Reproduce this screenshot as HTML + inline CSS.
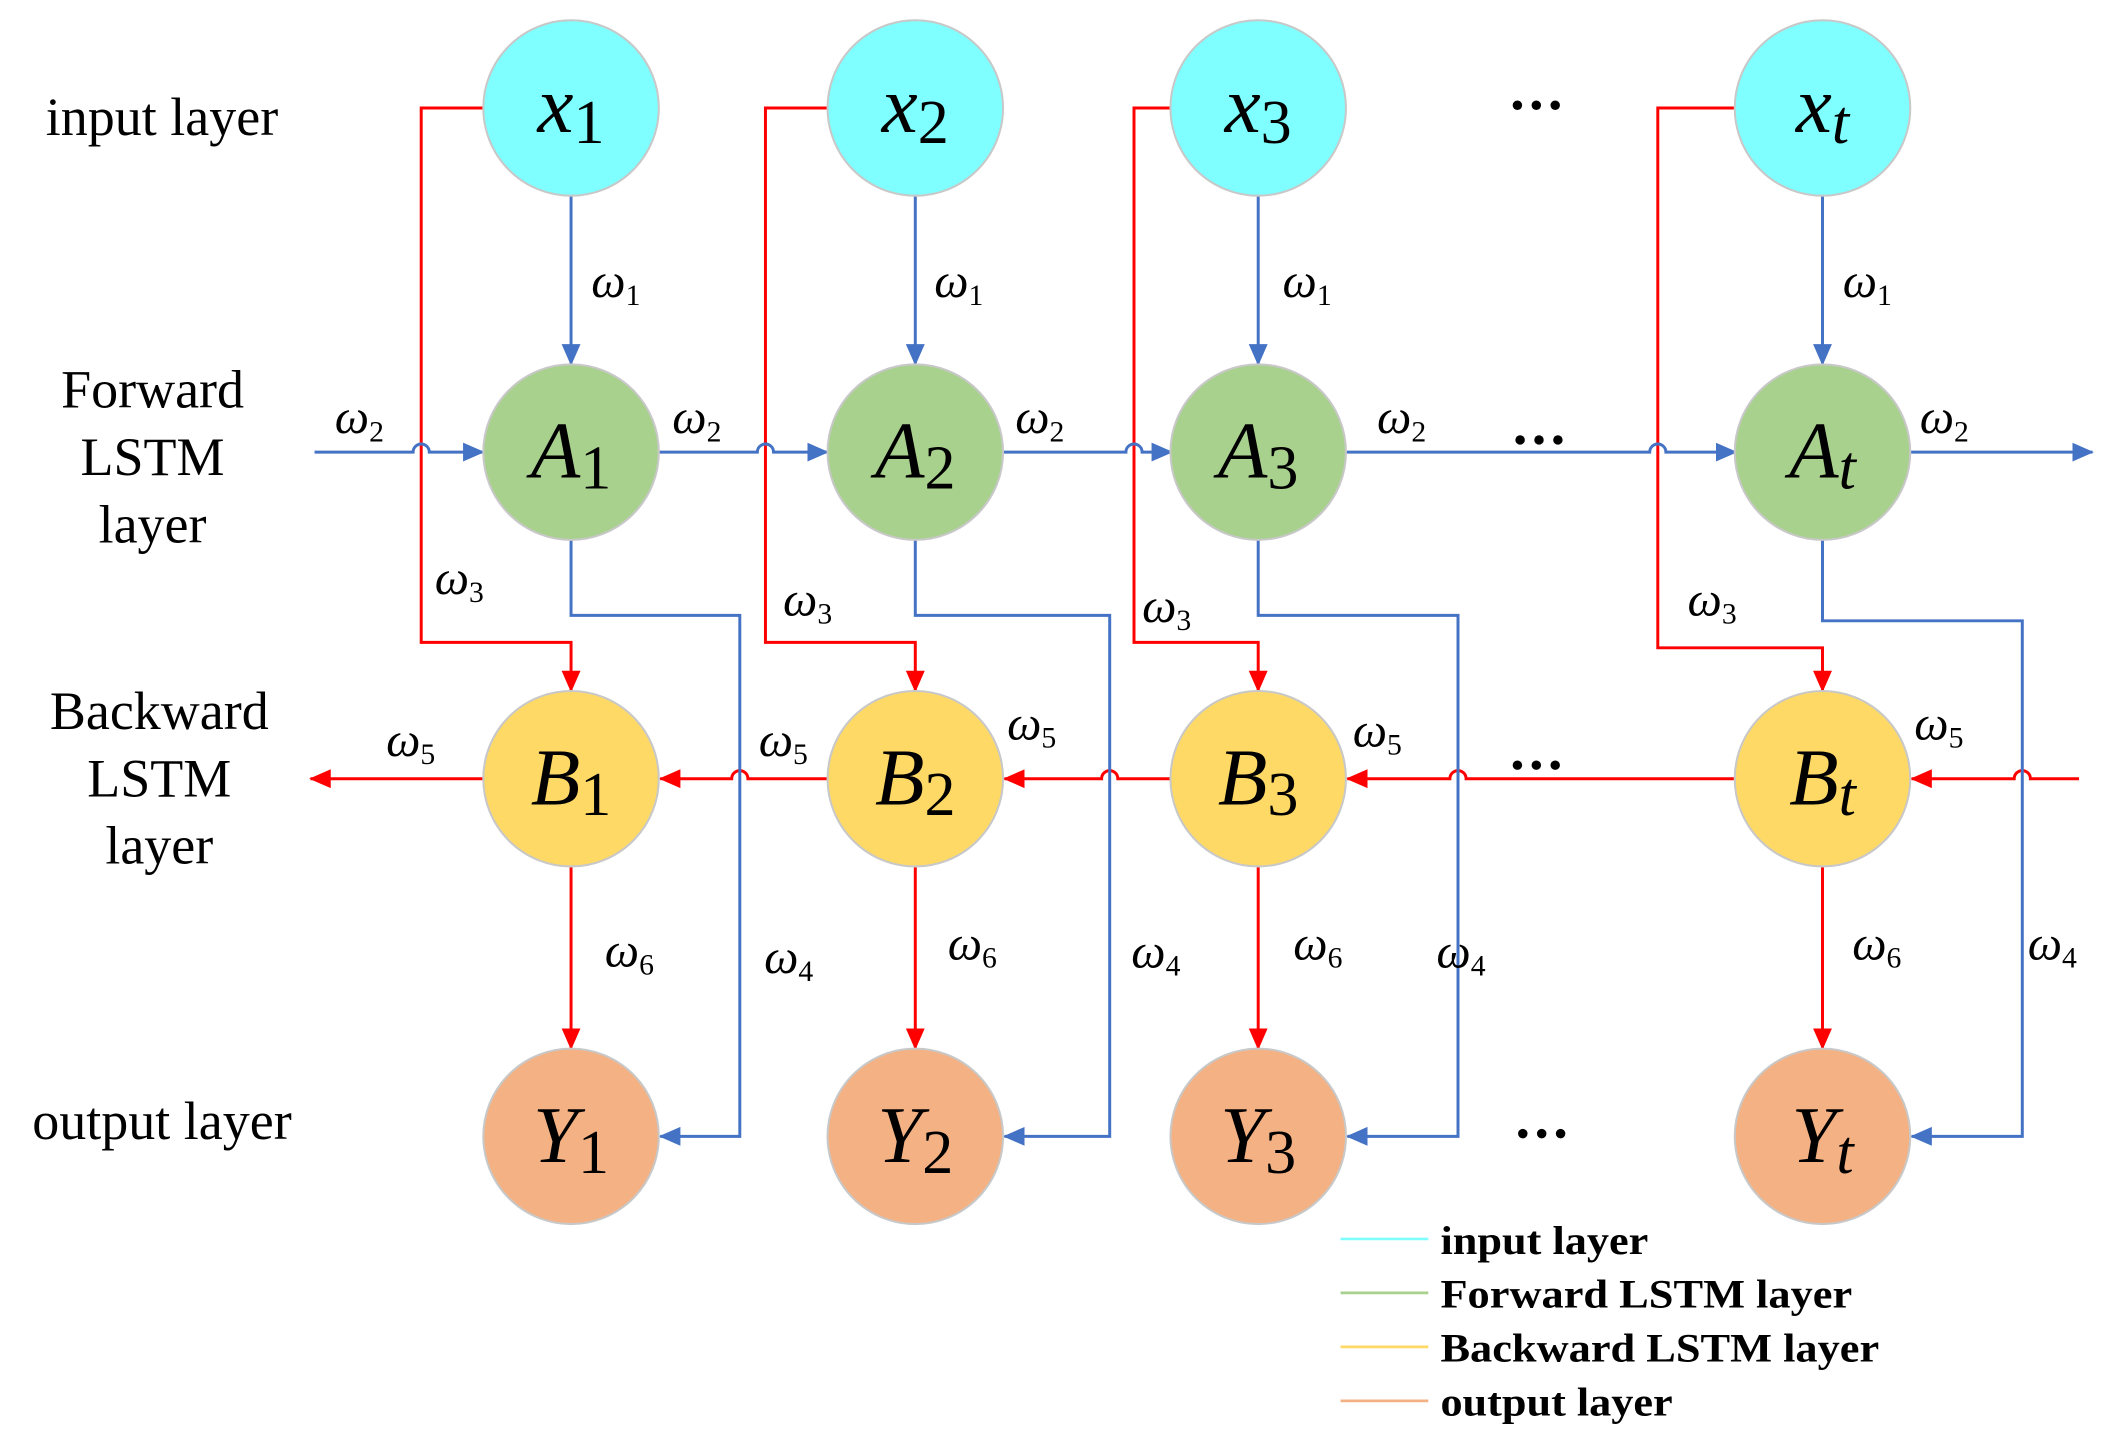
<!DOCTYPE html>
<html><head><meta charset="utf-8"><style>
html,body{margin:0;padding:0;background:#fff;}
svg{display:block;}
</style></head><body>
<svg width="2106" height="1440" viewBox="0 0 1560 1067" preserveAspectRatio="none" xmlns="http://www.w3.org/2000/svg" font-family="'Liberation Serif', 'Times New Roman', serif">
<defs>
<marker id="ab" markerWidth="16" markerHeight="16" refX="15" refY="8" orient="auto" markerUnits="userSpaceOnUse" viewBox="0 0 16 16"><path d="M0,1 L16,8 L0,15 z" fill="#4472c4"/></marker>
<marker id="ar" markerWidth="16" markerHeight="16" refX="15" refY="8" orient="auto" markerUnits="userSpaceOnUse" viewBox="0 0 16 16"><path d="M0,1 L16,8 L0,15 z" fill="#ff0000"/></marker>
</defs>
<g fill="none" stroke-width="2.2">
<g stroke="#ff0000">
<path d="M358,80 H312 V476 H423 V512" marker-end="url(#ar)"/>
<path d="M613,80 H567 V476 H678 V512" marker-end="url(#ar)"/>
<path d="M868,80 H840 V476 H932 V512" marker-end="url(#ar)"/>
<path d="M1286,80 H1228 V480 H1350 V512" marker-end="url(#ar)"/>
<path d="M423,642 V777" marker-end="url(#ar)"/>
<path d="M678,642 V777" marker-end="url(#ar)"/>
<path d="M932,642 V777" marker-end="url(#ar)"/>
<path d="M1350,642 V777" marker-end="url(#ar)"/>
<path d="M358,577 H230" marker-end="url(#ar)"/>
<path d="M613,577 H554 a6,6 0 0 0 -12,0 H489" marker-end="url(#ar)"/>
<path d="M868,577 H828 a6,6 0 0 0 -12,0 H744" marker-end="url(#ar)"/>
<path d="M1286,577 H1086 a6,6 0 0 0 -12,0 H998" marker-end="url(#ar)"/>
<path d="M1540,577 H1504 a6,6 0 0 0 -12,0 H1416" marker-end="url(#ar)"/>
</g>
<g stroke="#4472c4">
<path d="M423,145 V270" marker-end="url(#ab)"/>
<path d="M678,145 V270" marker-end="url(#ab)"/>
<path d="M932,145 V270" marker-end="url(#ab)"/>
<path d="M1350,145 V270" marker-end="url(#ab)"/>
<path d="M423,400 V456 H548 V842 H489" marker-end="url(#ab)"/>
<path d="M678,400 V456 H822 V842 H744" marker-end="url(#ab)"/>
<path d="M932,400 V456 H1080 V842 H998" marker-end="url(#ab)"/>
<path d="M1350,400 V460 H1498 V842 H1416" marker-end="url(#ab)"/>
<path d="M233,335 H306 a6,6 0 0 1 12,0 H358" marker-end="url(#ab)"/>
<path d="M488,335 H561 a6,6 0 0 1 12,0 H613" marker-end="url(#ab)"/>
<path d="M743,335 H834 a6,6 0 0 1 12,0 H868" marker-end="url(#ab)"/>
<path d="M997,335 H1222 a6,6 0 0 1 12,0 H1286" marker-end="url(#ab)"/>
<path d="M1415,335 H1550" marker-end="url(#ab)"/>
</g>
</g>
<g stroke="#c8c8c8" stroke-width="1.5">
<circle cx="423" cy="80" r="65" fill="#7fffff"/><circle cx="678" cy="80" r="65" fill="#7fffff"/><circle cx="932" cy="80" r="65" fill="#7fffff"/><circle cx="1350" cy="80" r="65" fill="#7fffff"/>
<circle cx="423" cy="335" r="65" fill="#a9d18e"/><circle cx="678" cy="335" r="65" fill="#a9d18e"/><circle cx="932" cy="335" r="65" fill="#a9d18e"/><circle cx="1350" cy="335" r="65" fill="#a9d18e"/>
<circle cx="423" cy="577" r="65" fill="#ffd966"/><circle cx="678" cy="577" r="65" fill="#ffd966"/><circle cx="932" cy="577" r="65" fill="#ffd966"/><circle cx="1350" cy="577" r="65" fill="#ffd966"/>
<circle cx="423" cy="842" r="65" fill="#f4b183"/><circle cx="678" cy="842" r="65" fill="#f4b183"/><circle cx="932" cy="842" r="65" fill="#f4b183"/><circle cx="1350" cy="842" r="65" fill="#f4b183"/>
</g>
<g font-size="60" font-style="italic" text-anchor="middle" fill="#000">
<text x="423" y="98">x<tspan font-style="normal" font-size="46" dy="8">1</tspan></text>
<text x="678" y="98">x<tspan font-style="normal" font-size="46" dy="8">2</tspan></text>
<text x="932" y="98">x<tspan font-style="normal" font-size="46" dy="8">3</tspan></text>
<text x="1350" y="98">x<tspan font-size="46" dy="8">t</tspan></text>
<text x="423" y="354">A<tspan font-style="normal" font-size="46" dy="8">1</tspan></text>
<text x="678" y="354">A<tspan font-style="normal" font-size="46" dy="8">2</tspan></text>
<text x="932" y="354">A<tspan font-style="normal" font-size="46" dy="8">3</tspan></text>
<text x="1350" y="354">A<tspan font-size="46" dy="8">t</tspan></text>
<text x="423" y="596">B<tspan font-style="normal" font-size="46" dy="8">1</tspan></text>
<text x="678" y="596">B<tspan font-style="normal" font-size="46" dy="8">2</tspan></text>
<text x="932" y="596">B<tspan font-style="normal" font-size="46" dy="8">3</tspan></text>
<text x="1350" y="596">B<tspan font-size="46" dy="8">t</tspan></text>
<text x="423" y="861">Y<tspan font-style="normal" font-size="46" dy="8">1</tspan></text>
<text x="678" y="861">Y<tspan font-style="normal" font-size="46" dy="8">2</tspan></text>
<text x="932" y="861">Y<tspan font-style="normal" font-size="46" dy="8">3</tspan></text>
<text x="1350" y="861">Y<tspan font-size="46" dy="8">t</tspan></text>
</g>
<g font-size="36" font-style="italic" fill="#000">
<text x="438" y="220">ω<tspan font-style="normal" font-size="22" dy="6">1</tspan></text>
<text x="692" y="220">ω<tspan font-style="normal" font-size="22" dy="6">1</tspan></text>
<text x="950" y="220">ω<tspan font-style="normal" font-size="22" dy="6">1</tspan></text>
<text x="1365" y="220">ω<tspan font-style="normal" font-size="22" dy="6">1</tspan></text>
<text x="248" y="321">ω<tspan font-style="normal" font-size="22" dy="6">2</tspan></text>
<text x="498" y="321">ω<tspan font-style="normal" font-size="22" dy="6">2</tspan></text>
<text x="752" y="321">ω<tspan font-style="normal" font-size="22" dy="6">2</tspan></text>
<text x="1020" y="321">ω<tspan font-style="normal" font-size="22" dy="6">2</tspan></text>
<text x="1422" y="321">ω<tspan font-style="normal" font-size="22" dy="6">2</tspan></text>
<text x="322" y="440">ω<tspan font-style="normal" font-size="22" dy="6">3</tspan></text>
<text x="580" y="456">ω<tspan font-style="normal" font-size="22" dy="6">3</tspan></text>
<text x="846" y="461">ω<tspan font-style="normal" font-size="22" dy="6">3</tspan></text>
<text x="1250" y="456">ω<tspan font-style="normal" font-size="22" dy="6">3</tspan></text>
<text x="286" y="560">ω<tspan font-style="normal" font-size="22" dy="6">5</tspan></text>
<text x="562" y="560">ω<tspan font-style="normal" font-size="22" dy="6">5</tspan></text>
<text x="746" y="548">ω<tspan font-style="normal" font-size="22" dy="6">5</tspan></text>
<text x="1002" y="553">ω<tspan font-style="normal" font-size="22" dy="6">5</tspan></text>
<text x="1418" y="548">ω<tspan font-style="normal" font-size="22" dy="6">5</tspan></text>
<text x="448" y="716">ω<tspan font-style="normal" font-size="22" dy="6">6</tspan></text>
<text x="702" y="711">ω<tspan font-style="normal" font-size="22" dy="6">6</tspan></text>
<text x="958" y="711">ω<tspan font-style="normal" font-size="22" dy="6">6</tspan></text>
<text x="1372" y="711">ω<tspan font-style="normal" font-size="22" dy="6">6</tspan></text>
<text x="566" y="721">ω<tspan font-style="normal" font-size="22" dy="6">4</tspan></text>
<text x="838" y="717">ω<tspan font-style="normal" font-size="22" dy="6">4</tspan></text>
<text x="1064" y="717">ω<tspan font-style="normal" font-size="22" dy="6">4</tspan></text>
<text x="1502" y="711">ω<tspan font-style="normal" font-size="22" dy="6">4</tspan></text>
</g>
<g fill="#000"><circle cx="1124" cy="78" r="3.5"/><circle cx="1138" cy="78" r="3.5"/><circle cx="1152" cy="78" r="3.5"/>
<circle cx="1126" cy="326" r="3.5"/><circle cx="1140" cy="326" r="3.5"/><circle cx="1154" cy="326" r="3.5"/>
<circle cx="1124" cy="567" r="3.5"/><circle cx="1138" cy="567" r="3.5"/><circle cx="1152" cy="567" r="3.5"/>
<circle cx="1128" cy="840" r="3.5"/><circle cx="1142" cy="840" r="3.5"/><circle cx="1156" cy="840" r="3.5"/></g>
<g font-size="40" text-anchor="middle" fill="#000">
<text x="120" y="100">input layer</text>
<text x="113" y="302">Forward</text><text x="113" y="352">LSTM</text><text x="113" y="402">layer</text>
<text x="118" y="540">Backward</text><text x="118" y="590">LSTM</text><text x="118" y="640">layer</text>
<text x="120" y="844">output layer</text>
</g>
<g stroke-width="2"><line x1="993" y1="918" x2="1058" y2="918" stroke="#7fffff"/><line x1="993" y1="958" x2="1058" y2="958" stroke="#a9d18e"/><line x1="993" y1="998" x2="1058" y2="998" stroke="#ffd966"/><line x1="993" y1="1038" x2="1058" y2="1038" stroke="#f4b183"/></g>
<g font-size="30" font-weight="bold" fill="#000">
<text x="1067" y="929" textLength="154" lengthAdjust="spacingAndGlyphs">input layer</text>
<text x="1067" y="969" textLength="305" lengthAdjust="spacingAndGlyphs">Forward LSTM layer</text>
<text x="1067" y="1009" textLength="325" lengthAdjust="spacingAndGlyphs">Backward LSTM layer</text>
<text x="1067" y="1049" textLength="172" lengthAdjust="spacingAndGlyphs">output layer</text>
</g>
</svg>
</body></html>
